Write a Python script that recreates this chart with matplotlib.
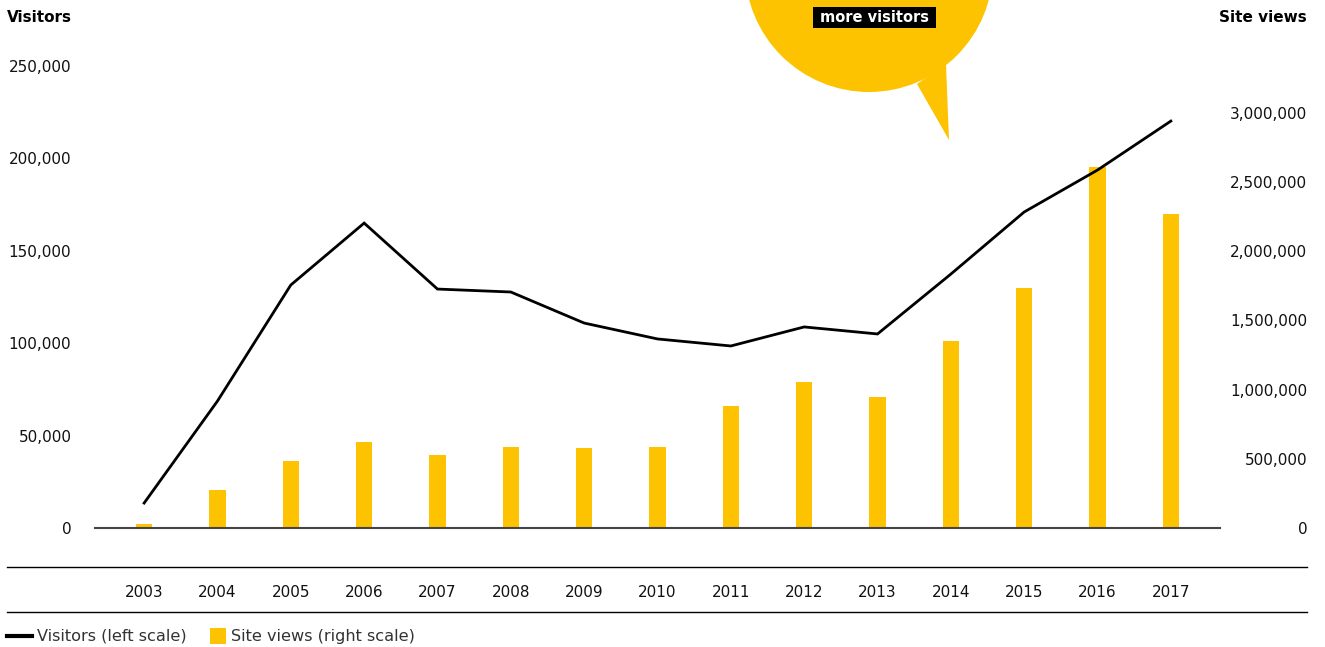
import matplotlib
matplotlib.use("Agg")
import matplotlib.pyplot as plt
from matplotlib.patches import Circle, Polygon, Rectangle
from matplotlib.lines import Line2D
from matplotlib.ticker import FuncFormatter

years = ["2003", "2004", "2005", "2006", "2007", "2008", "2009", "2010",
         "2011", "2012", "2013", "2014", "2015", "2016", "2017"]
visitors = [13500, 68700, 131500, 165000, 129300, 127700, 110900, 102300,
            98500, 108800, 105000, 137400, 171000, 193700, 220200]
site_views = [30000, 275000, 484000, 622000, 528000, 586000, 578000, 586000,
              882000, 1055000, 947000, 1352000, 1735000, 2610000, 2270000]
left_ticks = [0, 50000, 100000, 150000, 200000, 250000]
right_ticks = [0, 500000, 1000000, 1500000, 2000000, 2500000, 3000000]

YELLOW = "#FDC300"
plt.rcParams['font.family'] = ['DejaVu Sans']
FS = 11

W, H = 1325, 647
fig = plt.figure(figsize=(W / 100, H / 100), dpi=100)

x0, x1 = 95, 1220
ybot, ytop = 528, 66
ax = fig.add_axes([x0 / W, 1 - ybot / H, (x1 - x0) / W, (ybot - ytop) / H])
ax2 = ax.twinx()
ax.set_zorder(ax2.get_zorder() + 1)
ax.patch.set_visible(False)

xs = list(range(len(years)))
ax2.bar(xs, site_views, width=0.22, color=YELLOW, zorder=2)
ax.plot(xs, visitors, color="black", lw=2, clip_on=False, zorder=3,
        solid_joinstyle="miter")

ax.set_xlim(-0.67, len(years) - 1 + 0.67)
ax.set_ylim(0, 250000)
ax2.set_ylim(0, 3000000 * (ybot - ytop) / (528 - 113))

fmt = FuncFormatter(lambda v, p: f"{int(v):,}")
ax.set_yticks(left_ticks)
ax.yaxis.set_major_formatter(fmt)
ax2.set_yticks(right_ticks)
ax2.yaxis.set_major_formatter(fmt)

for a in (ax, ax2):
    for s in a.spines.values():
        s.set_visible(False)
ax.spines['bottom'].set_visible(True)
ax.spines['bottom'].set_color("#444444")
ax.spines['bottom'].set_linewidth(1.5)

ax.tick_params(axis='y', length=0, pad=17, labelsize=FS, labelcolor="#111111")
ax2.tick_params(axis='y', length=0, pad=63, labelsize=FS, labelcolor="#111111")
for lab in ax2.get_yticklabels():
    lab.set_horizontalalignment('right')
ax.set_xticks(xs)
ax.set_xticklabels(years)
ax.tick_params(axis='x', length=0, pad=41, labelsize=FS, labelcolor="#111111")

# overlay in pixel coordinates
ov = fig.add_axes([0, 0, 1, 1], zorder=10)
ov.set_xlim(0, W)
ov.set_ylim(H, 0)
ov.axis('off')
ov.patch.set_visible(False)

ov.add_line(Line2D([7, 1307], [567, 567], color="black", lw=1))
ov.add_line(Line2D([7, 1307], [612, 612], color="black", lw=1))

ov.text(7, 17, "Visitors", fontsize=FS, fontweight='bold', ha='left', va='center')
ov.text(1307, 17, "Site views", fontsize=FS, fontweight='bold', ha='right', va='center')

# speech bubble
ov.add_patch(Circle((869, -32), 124, color=YELLOW, lw=0))
ov.add_patch(Polygon([(917, 84), (949, 140), (946, 64)], closed=True, color=YELLOW, lw=0))
ov.add_patch(Rectangle((813, 7), 123, 21, color="black", lw=0))
ov.text(874, 18, "more visitors", fontsize=10.5, fontweight='bold', color="white",
        ha='center', va='center')

# legend
ov.add_line(Line2D([7, 32], [636, 636], color="black", lw=3))
ov.text(37, 636, "Visitors (left scale)", fontsize=11.6, color="#333333", ha='left', va='center')
ov.add_patch(Rectangle((210, 628), 16, 16, color=YELLOW, lw=0))
ov.text(231, 636, "Site views (right scale)", fontsize=11.6, color="#333333", ha='left', va='center')

fig.savefig("out.png", dpi=100)
